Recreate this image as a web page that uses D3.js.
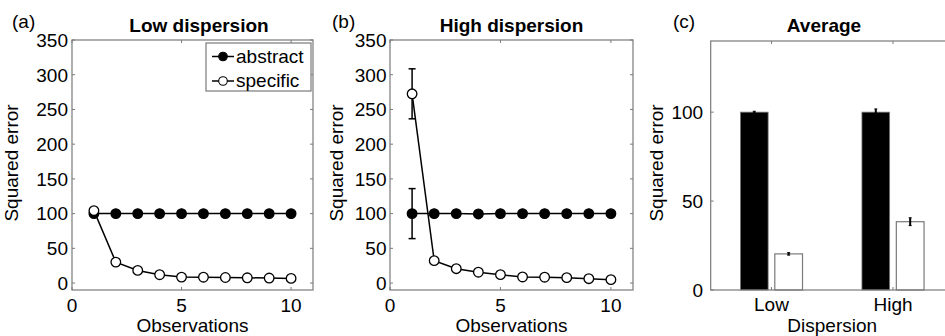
<!DOCTYPE html>
<html><head><meta charset="utf-8">
<script src="https://cdn.jsdelivr.net/npm/d3@7"></script>
<style>
body{margin:0;background:#fff;}
svg{display:block;font-family:"Liberation Sans",Arial,Helvetica,sans-serif;}
</style></head>
<body><svg id="c" width="945" height="336"></svg>
<script>
// ---- data ----
const observations = [1,2,3,4,5,6,7,8,9,10];
const lowAbstract  = [100,100,100,100,100,100,100,100,100,100];
const lowSpecific  = [104.3,30.2,18.2,12,8.6,8.4,8,7.6,7.2,6.7];
const highAbstract = [100,100,100,99.5,100,100,100,100,100,100];
const highSpecific = [272.5,32.3,20.7,15.6,12.1,8.8,8.4,7.8,6.3,4.9];
const highAbstractErr = [36,0,0,0,0,0,0,0,0,0];
const highSpecificErr = [36,0,0,0,0,0,0,0,0,0];
const lineTicksX = [0,5,10];
const lineTicksY = [0,50,100,150,200,250,300,350];
const dispersionCats = ["Low","High"];
const avgAbstract = [100,100];
const avgAbstractErr = [0.5,1.8];
const avgSpecific = [20.3,38.4];
const avgSpecificErr = [0.7,2.2];
const barTicksY = [0,50,100];
const seriesNames = ["abstract","specific"];

const svg = d3.select("#c");
const FS = 19;
const axisCol = "#7a7a7a";

function box(g, x0, x1, y0, y1){
  g.append("rect").attr("x",x0).attr("y",y1).attr("width",x1-x0).attr("height",y0-y1)
   .attr("fill","none").attr("stroke",axisCol).attr("stroke-width",1.2);
}

function linePanel(opt){
  const x = d3.scaleLinear().domain([0,11]).range([opt.x0,opt.x1]);
  const y = d3.scaleLinear().domain([-10,350]).range([290,40]);
  const g = svg.append("g");
  box(g, opt.x0, opt.x1, 290, 40);
  const tl = 3;
  lineTicksX.forEach(t=>{
    g.append("line").attr("x1",x(t)).attr("x2",x(t)).attr("y1",290).attr("y2",290-tl).attr("stroke",axisCol);
    g.append("line").attr("x1",x(t)).attr("x2",x(t)).attr("y1",40).attr("y2",40+tl).attr("stroke",axisCol);
    g.append("text").attr("x",x(t)).attr("y",312).attr("text-anchor","middle").attr("font-size",FS).text(t);
  });
  lineTicksY.forEach(t=>{
    g.append("line").attr("x1",opt.x0).attr("x2",opt.x0+tl).attr("y1",y(t)).attr("y2",y(t)).attr("stroke",axisCol);
    g.append("line").attr("x1",opt.x1).attr("x2",opt.x1-tl).attr("y1",y(t)).attr("y2",y(t)).attr("stroke",axisCol);
    g.append("text").attr("x",opt.x0-opt.gap).attr("y",y(t)).attr("dy","0.36em").attr("text-anchor","end").attr("font-size",FS).text(t);
  });
  g.append("text").attr("x",(opt.x0+opt.x1)/2).attr("y",332).attr("text-anchor","middle").attr("font-size",FS).text("Observations");
  g.append("text").attr("transform",`translate(${opt.ylx},163) rotate(-90)`).attr("text-anchor","middle").attr("font-size",FS).text("Squared error");
  g.append("text").attr("x",opt.tx).attr("y",32).attr("text-anchor","middle").attr("font-size",FS).attr("font-weight","bold").text(opt.title);
  g.append("text").attr("x",opt.lx).attr("y",28).attr("font-size",FS).text(opt.label);

  const line = d3.line().x((d,i)=>x(observations[i])).y(d=>y(d));
  const drawSeries = (vals, errs, filled)=>{
    g.append("path").attr("d",line(vals)).attr("fill","none").attr("stroke","#000").attr("stroke-width",1.5);
    if(errs){
      vals.forEach((v,i)=>{
        if(!errs[i]) return;
        const cx = x(observations[i]);
        g.append("line").attr("x1",cx).attr("x2",cx).attr("y1",y(v-errs[i])).attr("y2",y(v+errs[i])).attr("stroke","#000").attr("stroke-width",1.5);
        [v-errs[i], v+errs[i]].forEach(e=>g.append("line").attr("x1",cx-3.5).attr("x2",cx+3.5).attr("y1",y(e)).attr("y2",y(e)).attr("stroke","#000").attr("stroke-width",1.5));
      });
    }
    g.selectAll(null).data(vals).enter().append("circle")
      .attr("cx",(d,i)=>x(observations[i])).attr("cy",d=>y(d)).attr("r",4.8)
      .attr("fill",filled?"#000":"#fff").attr("stroke","#000").attr("stroke-width",1.3);
  };
  drawSeries(opt.abs, opt.absErr, true);
  drawSeries(opt.spec, opt.specErr, false);
  return g;
}

const ga = linePanel({x0:72,x1:313,gap:4,ylx:18,tx:199,lx:12,label:"(a)",title:"Low dispersion",abs:lowAbstract,spec:lowSpecific});
linePanel({x0:390,x1:633,gap:3.5,ylx:343,tx:511.5,lx:332,label:"(b)",title:"High dispersion",abs:highAbstract,spec:highSpecific,absErr:highAbstractErr,specErr:highSpecificErr});

// legend in panel (a)
(function(){
  const lg = ga.append("g");
  lg.append("rect").attr("x",206).attr("y",43).attr("width",105).attr("height",48)
    .attr("fill","#fff").attr("stroke",axisCol).attr("stroke-width",1.2);
  seriesNames.forEach((n,i)=>{
    const cy = 56.5 + i*24.5;
    lg.append("line").attr("x1",212).attr("x2",234).attr("y1",cy).attr("y2",cy).attr("stroke","#000").attr("stroke-width",1.5);
    lg.append("circle").attr("cx",223).attr("cy",cy).attr("r",4.3).attr("fill",i===0?"#000":"#fff").attr("stroke","#000").attr("stroke-width",1.1);
    lg.append("text").attr("x",236).attr("y",cy).attr("dy","0.33em").attr("font-size",FS).text(n);
  });
})();

// panel (c)
(function(){
  const x0 = 710.7, x1 = 953.75;
  const x = d3.scaleLinear().domain([0.5,2.5]).range([x0,x1]);
  const y = d3.scaleLinear().domain([0,140]).range([290,41]);
  const g = svg.append("g");
  const bw = 0.228, off = 0.1415;
  dispersionCats.forEach((c,i)=>{
    const cx = i+1;
    g.append("rect").attr("x",x(cx-off-bw/2)).attr("width",x(cx-off+bw/2)-x(cx-off-bw/2))
      .attr("y",y(avgAbstract[i])).attr("height",y(0)-y(avgAbstract[i]))
      .attr("fill","#000").attr("stroke",axisCol).attr("stroke-width",0.8);
    g.append("rect").attr("x",x(cx+off-bw/2)).attr("width",x(cx+off+bw/2)-x(cx+off-bw/2))
      .attr("y",y(avgSpecific[i])).attr("height",y(0)-y(avgSpecific[i]))
      .attr("fill","#fff").attr("stroke",axisCol).attr("stroke-width",1.2);
    [[avgAbstract[i],avgAbstractErr[i],cx-off],[avgSpecific[i],avgSpecificErr[i],cx+off]].forEach(([v,e,p])=>{
      const px = x(p);
      g.append("line").attr("x1",px).attr("x2",px).attr("y1",y(v-e)).attr("y2",y(v+e)).attr("stroke","#000").attr("stroke-width",2);
      [v-e,v+e].forEach(t=>g.append("line").attr("x1",px-1.5).attr("x2",px+1.5).attr("y1",y(t)).attr("y2",y(t)).attr("stroke","#000").attr("stroke-width",1));
    });
  });
  box(g, x0, x1, 290, 41);
  const tl = 3;
  dispersionCats.forEach((c,i)=>{
    const px = x(i+1);
    g.append("line").attr("x1",px).attr("x2",px).attr("y1",290).attr("y2",290-tl).attr("stroke",axisCol);
    g.append("line").attr("x1",px).attr("x2",px).attr("y1",41).attr("y2",41+tl).attr("stroke",axisCol);
    g.append("text").attr("x",px).attr("y",311).attr("text-anchor","middle").attr("font-size",FS).text(c);
  });
  barTicksY.forEach(t=>{
    g.append("line").attr("x1",x0).attr("x2",x0+tl).attr("y1",y(t)).attr("y2",y(t)).attr("stroke",axisCol);
    g.append("text").attr("x",x0-7.5).attr("y",y(t)).attr("dy","0.36em").attr("text-anchor","end").attr("font-size",FS).text(t);
  });
  g.append("text").attr("x",(x0+x1)/2).attr("y",332).attr("text-anchor","middle").attr("font-size",FS).text("Dispersion");
  g.append("text").attr("transform",`translate(663,163) rotate(-90)`).attr("text-anchor","middle").attr("font-size",FS).text("Squared error");
  g.append("text").attr("x",824).attr("y",32).attr("text-anchor","middle").attr("font-size",FS).attr("font-weight","bold").text("Average");
  g.append("text").attr("x",673).attr("y",28).attr("font-size",FS).text("(c)");
})();
</script></body></html>
